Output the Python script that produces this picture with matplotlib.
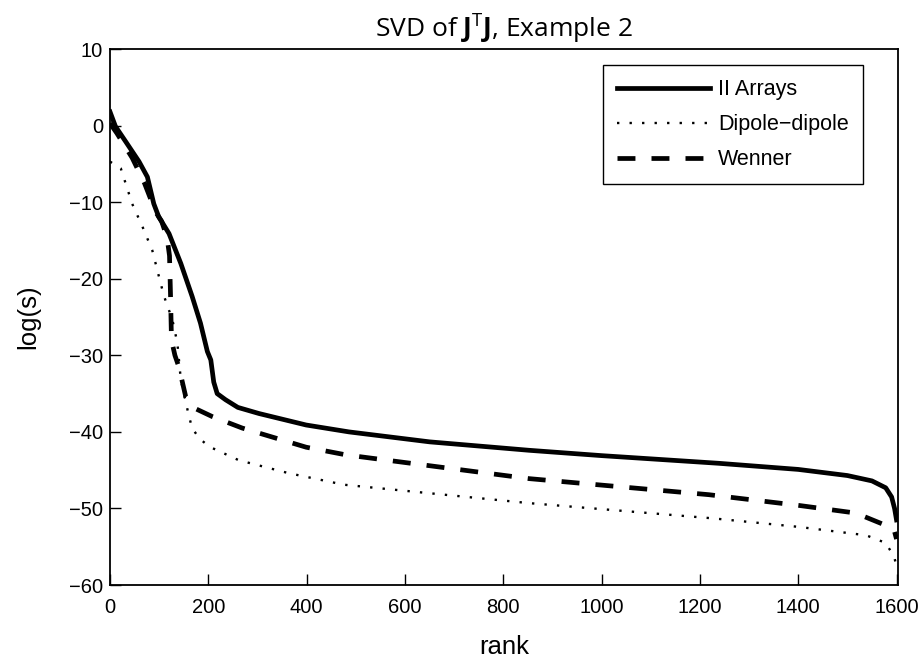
import matplotlib
matplotlib.use('Agg')
import matplotlib.pyplot as plt

# values
ii_rank = [0, 11, 32, 59, 76, 89, 99, 120, 144, 167, 184, 198, 205, 211, 218, 235, 260, 303,
           399, 486, 650, 852, 1000, 1238, 1400, 1500, 1550, 1578, 1590, 1596, 1600]
ii_vals = [1.8, -0.1, -2.1, -4.7, -6.7, -10.2, -11.9, -14.1, -18.0, -22.3, -25.8, -29.5, -30.6,
           -33.5, -35.0, -35.8, -36.8, -37.6, -39.1, -40.0, -41.3, -42.4, -43.1, -44.1, -44.9,
           -45.7, -46.4, -47.3, -48.5, -50.0, -51.5]

dd_rank = [0, 22, 45, 66, 86, 103, 110, 127, 137, 144, 160, 167, 181, 201, 262, 364, 476,
           852, 1228, 1400, 1538, 1578, 1595, 1600]
dd_vals = [-4.7, -5.6, -10.2, -13.2, -16.3, -20.6, -22.3, -25.4, -28.4, -33.2, -37.8, -39.5,
           -40.8, -41.9, -43.7, -45.4, -46.9, -49.3, -51.3, -52.4, -53.5, -54.5, -56.3, -57.5]

wn_rank = [0, 14, 45, 70, 93, 105, 116, 121, 123, 125, 132, 140, 154, 175, 208, 269, 399, 480,
           852, 1218, 1401, 1517, 1578, 1595, 1600]
wn_vals = [0.3, -1.0, -4.2, -7.5, -11.3, -12.5, -14.6, -17.0, -22.0, -28.0, -30.0, -31.5, -35.4,
           -37.0, -38.0, -39.5, -42.0, -43.0, -46.1, -48.2, -49.6, -50.6, -52.2, -52.8, -54.0]

x_ticks = [0, 200, 400, 600, 800, 1000, 1200, 1400, 1600]
y_ticks = [10, 0, -10, -20, -30, -40, -50, -60]

plt.rcParams['font.family'] = ['Liberation Sans', 'DejaVu Sans']
plt.rcParams['mathtext.fontset'] = 'custom'
plt.rcParams['mathtext.rm'] = 'Open Sans'
plt.rcParams['mathtext.bf'] = 'Open Sans:bold'

fig = plt.figure(figsize=(9.2, 6.63), dpi=100)
ax = fig.add_axes([0.1196, 0.1176, 0.8565, 0.8084])

ax.plot(ii_rank, ii_vals, color='black', lw=3.4, label='II Arrays')
ax.plot(dd_rank, dd_vals, color='black', lw=1.7, dashes=(1, 4.3), label='Dipole\u2212dipole')
ax.plot(wn_rank, wn_vals, color='black', lw=3.4, dashes=(3.8, 3.4), label='Wenner')

ax.set_xlim(0, 1603)
ax.set_ylim(-60, 10)
ax.set_xticks(x_ticks)
ax.set_yticks(y_ticks)
ax.set_yticklabels(['\u2212' + str(-v) if v < 0 else str(v) for v in y_ticks])
ax.tick_params(direction='in', length=8, width=1, labelsize=14.5, top=False, right=False)
ax.tick_params(axis='x', pad=9)
ax.tick_params(axis='y', pad=5)
for s in ax.spines.values():
    s.set_linewidth(1.3)

ax.set_xlabel('rank', fontsize=18.5, labelpad=13)
ax.set_ylabel('log(s)', fontsize=18.5, labelpad=21)
ax.set_title(r'SVD of $\mathbf{J}^{\mathrm{T}}\mathbf{J}$, Example 2',
             fontsize=19, family='Open Sans', pad=9)

leg = ax.legend(loc='upper right', bbox_to_anchor=(0.9556, 0.97), borderaxespad=0,
                fontsize=15.5, handlelength=4.3, handletextpad=0.4, fancybox=False,
                edgecolor='black', framealpha=1, borderpad=0.65, labelspacing=0.65)
leg.get_frame().set_linewidth(1)

plt.savefig('out.png', dpi=100)
